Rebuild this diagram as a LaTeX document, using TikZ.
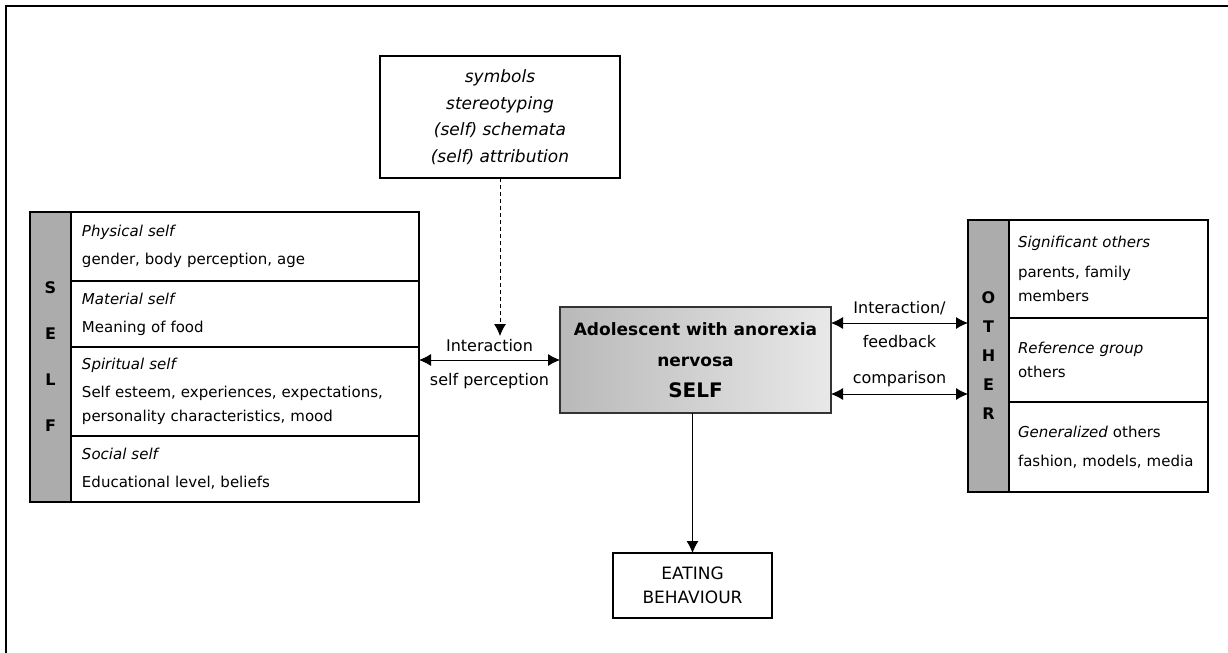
\documentclass[tikz,border=0pt]{standalone}
\usepackage{fontspec}
\setmainfont{DejaVu Sans}
\usetikzlibrary{positioning,calc,arrows.meta}

\begin{document}
\begin{tikzpicture}[x=0.5pt,y=-0.5pt,>={Latex[length=6pt,width=6pt]},
	box/.style={draw,rectangle,line width=0.6pt,inner sep=0pt,outer sep=0pt,anchor=north west},
	bar/.style={box,fill=gray!65,align=center,minimum width=20.5pt},
	row/.style={box,align=left,inner xsep=5.5pt,font=\fontsize{7.5}{12}\selectfont},
	lbl/.style={font=\fontsize{8}{9}\selectfont,inner sep=1pt}]
	\useasboundingbox (0,0) rectangle (1228,653);
	\draw[line width=1pt] (6,653) -- (6,6) -- (1228,6);
	% self side
	\node[bar,minimum height=145pt,font=\fontsize{8}{23}\selectfont\bfseries] (self_bar) at (30,212) {S\\E\\L\\F};
	\node[row,text width=163pt,minimum height=34.5pt] (phys_row) at (self_bar.north east) {\textit{Physical self}\\[2pt]gender, body perception, age};
	\node[row,text width=163pt,minimum height=33pt] (material_row) at (phys_row.south west) {\textit{Material self}\\[2pt]Meaning of food};
	\node[row,text width=163pt,minimum height=44.5pt] (spirit_row) at (material_row.south west) {\textit{Spiritual self}\\[2pt]Self esteem, experiences, expectations,\\personality characteristics, mood};
	\node[row,text width=163pt,minimum height=33pt] (social_row) at (spirit_row.south west) {\textit{Social self}\\[2pt]Educational level, beliefs};
	% other side
	\node[bar,minimum height=136pt,font=\fontsize{8}{14.5}\selectfont\bfseries] (other_bar) at (968,220) {O\\T\\H\\E\\R};
	\node[row,text width=90.5pt,minimum height=49pt,inner xsep=4.5pt] (sig_row) at (other_bar.north east) {\textit{Significant others}\\[3pt]parents, family\\members};
	\node[row,text width=90.5pt,minimum height=42pt,inner xsep=4.5pt] (ref_row) at (sig_row.south west) {\textit{Reference group}\\[0pt]others};
	\node[row,text width=90.5pt,minimum height=45pt,inner xsep=4.5pt] (gen_row) at (ref_row.south west) {\textit{Generalized} others\\[2.5pt]fashion, models, media};
	% middle
	\node[box,minimum width=135.5pt,minimum height=53pt,left color=gray!55,right color=gray!18,draw=gray!40!black,
		align=center,font=\fontsize{8.5}{15.5}\selectfont\bfseries] (main_self) at (560,307)
		{Adolescent with anorexia\\nervosa\\{\fontsize{10}{15.5}\selectfont SELF}};
	\node[box,minimum width=120pt,minimum height=61pt,align=center,font=\fontsize{8.5}{13.3}\selectfont\itshape] (cues) at (380,56)
		{symbols\\stereotyping\\(self) schemata\\(self) attribution};
	\node[box,minimum width=79.5pt,minimum height=32.5pt,align=center,font=\fontsize{8.5}{12}\selectfont] (eating) at (613,553) {EATING\\BEHAVIOUR};
	\coordinate (cue_end) at ([yshift=-79pt]cues.south);
	\coordinate (fb_top) at ([yshift=18.5pt]main_self.east);
	\coordinate (fb_bot) at ([yshift=-17pt]main_self.east);
	\draw[->,dash pattern=on 2pt off 1.5pt] (cues.south) -- (cue_end);
	\path[<->]
	(spirit_row.east |- main_self.west) edge node[lbl,above=3pt] {Interaction} node[lbl,below=5.5pt] {self perception} (main_self.west)
	(fb_top) edge node[lbl,above=3pt] {Interaction/} node[lbl,below=5pt] {feedback} (fb_top -| other_bar.west)
	(fb_bot) edge node[lbl,above=2.5pt] {comparison} (fb_bot -| other_bar.west);
	\draw[->] (eating.north |- main_self.south) -- (eating.north);
\end{tikzpicture}
\end{document}
